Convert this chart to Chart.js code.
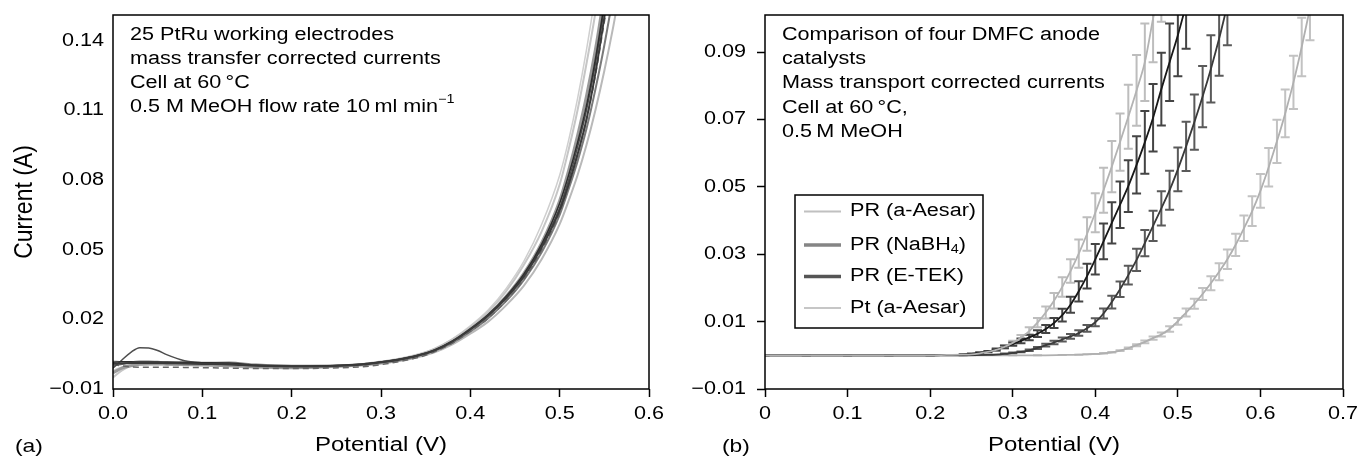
<!DOCTYPE html>
<html><head><meta charset="utf-8">
<script src="https://cdn.jsdelivr.net/npm/chart.js@4.4.1/dist/chart.umd.min.js"></script>
<style>
html,body{margin:0;padding:0;background:#fff;width:1359px;height:459px;overflow:hidden}
#wa{position:absolute;left:0;top:0;width:680px;height:459px}
#wb{position:absolute;left:680px;top:0;width:679px;height:459px}
</style></head><body>
<div id="wa"><canvas id="ca"></canvas></div>
<div id="wb"><canvas id="cb"></canvas></div>
<script>
const FONT = "'Liberation Sans', Arial, Helvetica, sans-serif";
const SX = 1.2; // the source figure's lettering is horizontally widened

// ---------- Panel (a): 25 PtRu electrodes (representative traces) ----------
const aPotential = [0,0.01,0.02,0.03,0.04,0.05,0.06,0.08,0.10,0.13,0.16,0.20,0.24,0.28,0.30,0.32,0.34,0.36,0.38,0.40,0.42,0.44,0.46,0.48,0.50,0.51,0.52,0.53,0.54,0.55,0.56,0.57];
const aCurve1 = [0.001,0.001,0.0012,0.0012,0.0012,0.0012,0.0011,0.001,0.0008,0.0006,0.0,-0.0003,-0.0002,0.0005,0.0015,0.0026,0.0042,0.0066,0.0105,0.0158,0.0218,0.0292,0.0385,0.051,0.067,0.078,0.091,0.106,0.126,0.15,0.175,0.2];
const aCurve2 = [-0.001,0.0025,0.0058,0.0078,0.0077,0.0066,0.0048,0.0022,0.0013,0.0008,0.0002,-0.0001,0.0,0.0008,0.0017,0.0028,0.0044,0.0068,0.0106,0.0156,0.0215,0.029,0.0385,0.0515,0.068,0.08,0.094,0.11,0.13,0.154,0.18,0.2];
const aCurve3 = [0.0,0.0008,0.0015,0.0018,0.0018,0.0017,0.0016,0.0015,0.0013,0.0014,0.0005,0.0,0.0,0.0008,0.0015,0.0027,0.0043,0.0065,0.01,0.0148,0.0205,0.0278,0.037,0.049,0.065,0.076,0.088,0.102,0.119,0.138,0.16,0.185];
const aCurve4 = [-0.003,-0.001,0.0,0.0006,0.0008,0.0008,0.0007,0.0005,0.0003,0.0,-0.0005,-0.0008,-0.0004,0.0004,0.0012,0.0024,0.0041,0.0066,0.0104,0.0156,0.0218,0.0298,0.0398,0.053,0.071,0.084,0.099,0.116,0.136,0.16,0.185,0.21];
const aCurve5 = [0.002,0.0015,0.0012,0.001,0.001,0.001,0.0009,0.0008,0.0006,0.0004,0.0,-0.0002,0.0,0.0006,0.0013,0.0022,0.0036,0.0058,0.0092,0.0138,0.019,0.026,0.0345,0.046,0.061,0.071,0.082,0.095,0.11,0.127,0.146,0.167];
const aCurve6 = [-0.005,-0.002,0.0,0.0005,0.0007,0.0007,0.0006,0.0005,0.0004,0.0002,0.0,-0.0003,-0.0001,0.0007,0.0018,0.003,0.0048,0.0074,0.0114,0.0166,0.0232,0.032,0.0435,0.058,0.078,0.093,0.11,0.13,0.152,0.178,0.205,0.23];
const aCurve7 = [0.0005,0.0,-0.0005,-0.0006,-0.0006,-0.0006,-0.0006,-0.0007,-0.0008,-0.001,-0.0012,-0.0012,-0.001,-0.0004,0.0005,0.0018,0.0034,0.006,0.0098,0.0148,0.0205,0.028,0.0372,0.05,0.066,0.078,0.091,0.106,0.125,0.148,0.17,0.195];
const aCurve8 = [0.0015,0.0017,0.0017,0.0016,0.0016,0.0016,0.0015,0.0014,0.0013,0.0012,0.0002,-0.0002,0.0,0.0007,0.0016,0.0027,0.0043,0.0067,0.0106,0.0158,0.022,0.0298,0.0395,0.0525,0.07,0.082,0.096,0.112,0.132,0.156,0.18,0.205];
const aCurve9 = [-0.002,-0.0005,0.0005,0.0008,0.0009,0.0009,0.0008,0.0006,0.0004,0.0002,-0.0002,-0.0005,-0.0003,0.0006,0.0016,0.0029,0.0047,0.0074,0.0116,0.0172,0.024,0.0332,0.045,0.061,0.082,0.097,0.115,0.136,0.16,0.186,0.21,0.235];
const aXTicks = [0,0.1,0.2,0.3,0.4,0.5,0.6];
const aXTickLabels = ['0.0','0.1','0.2','0.3','0.4','0.5','0.6'];
const aYTicks = [-0.01,0.02,0.05,0.08,0.11,0.14];
const aYTickLabels = ['\u22120.01','0.02','0.05','0.08','0.11','0.14'];

// ---------- Panel (b): four DMFC anode catalysts ----------
const seriesNames = ['PR (a-Aesar)','PR (NaBH4)','PR (E-TEK)','Pt (a-Aesar)'];
const prAesarPotential = [0,0.05,0.10,0.15,0.20,0.22,0.24,0.25,0.26,0.27,0.28,0.29,0.30,0.31,0.32,0.33,0.34,0.35,0.36,0.37,0.38,0.39,0.40,0.41,0.42,0.43,0.44,0.45,0.46,0.47,0.48];
const prAesarCurrent = [0,0,0,0,0,0.0001,0.0002,0.0003,0.0006,0.001,0.0016,0.0025,0.0037,0.0052,0.0072,0.0097,0.0127,0.0162,0.0203,0.025,0.0302,0.036,0.0423,0.049,0.056,0.0633,0.0708,0.0786,0.087,0.1,0.113];
const prAesarError = [0,0,0,0,0,0,0,0.0001,0.0001,0.0002,0.0003,0.0004,0.0006,0.0008,0.0011,0.0014,0.0018,0.0023,0.0029,0.0035,0.0042,0.005,0.0058,0.0067,0.0076,0.0085,0.0095,0.0105,0.0115,0.013,0.014];
const prNaBH4Potential = [0,0.05,0.10,0.15,0.20,0.22,0.24,0.25,0.26,0.27,0.28,0.29,0.30,0.31,0.32,0.33,0.34,0.35,0.36,0.37,0.38,0.39,0.40,0.41,0.42,0.43,0.44,0.45,0.46,0.47,0.48,0.49,0.50,0.51];
const prNaBH4Current = [0,0,0,0,0,0.0001,0.0002,0.0004,0.0007,0.0011,0.0017,0.0025,0.0033,0.0043,0.0053,0.0064,0.0078,0.0096,0.0119,0.015,0.019,0.0235,0.0285,0.0338,0.0393,0.0447,0.0502,0.0565,0.0632,0.0705,0.079,0.087,0.095,0.104];
const prNaBH4Error = [0,0,0,0,0,0,0.0001,0.0001,0.0002,0.0002,0.0003,0.0004,0.0005,0.0007,0.0008,0.001,0.0012,0.0015,0.0019,0.0024,0.003,0.0037,0.0045,0.0053,0.0061,0.0069,0.0077,0.0085,0.0093,0.01,0.0108,0.0115,0.0122,0.013];
const prETEKPotential = [0,0.05,0.10,0.15,0.20,0.24,0.27,0.28,0.29,0.30,0.31,0.32,0.33,0.34,0.35,0.36,0.37,0.38,0.39,0.40,0.41,0.42,0.43,0.44,0.45,0.46,0.47,0.48,0.49,0.50,0.51,0.52,0.53,0.54,0.55,0.56];
const prETEKCurrent = [0,0,0,0,0,0,0.0001,0.0002,0.0004,0.0007,0.001,0.0015,0.0022,0.003,0.0038,0.0047,0.0056,0.0066,0.008,0.0098,0.0124,0.0158,0.0196,0.0238,0.0283,0.0333,0.0384,0.0436,0.049,0.0552,0.062,0.0692,0.0768,0.085,0.094,0.104];
const prETEKError = [0,0,0,0,0,0,0,0,0.0001,0.0001,0.0001,0.0002,0.0003,0.0004,0.0005,0.0006,0.0007,0.0008,0.001,0.0012,0.0015,0.0019,0.0023,0.0028,0.0033,0.0039,0.0045,0.0051,0.0058,0.0065,0.0073,0.0082,0.0091,0.01,0.011,0.012];
const ptAesarPotential = [0,0.05,0.10,0.15,0.20,0.25,0.30,0.33,0.36,0.38,0.39,0.40,0.41,0.42,0.43,0.44,0.45,0.46,0.47,0.48,0.49,0.50,0.51,0.52,0.53,0.54,0.55,0.56,0.57,0.58,0.59,0.60,0.61,0.62,0.63,0.64,0.65,0.66];
const ptAesarCurrent = [0,0,0,0,0,0,0,0,0.0001,0.0002,0.0003,0.0004,0.0006,0.0009,0.0014,0.0021,0.003,0.004,0.0051,0.0062,0.0078,0.0101,0.0127,0.0153,0.0182,0.0214,0.0248,0.0285,0.0328,0.0377,0.0428,0.0488,0.0558,0.0635,0.0718,0.081,0.0915,0.103];
const ptAesarError = [0,0,0,0,0,0,0,0,0,0,0,0,0.0001,0.0001,0.0001,0.0002,0.0003,0.0004,0.0005,0.0006,0.0008,0.001,0.0012,0.0015,0.0018,0.0021,0.0025,0.0029,0.0033,0.0038,0.0044,0.005,0.0057,0.0064,0.0071,0.0079,0.0087,0.0095];
const bXTicks = [0,0.1,0.2,0.3,0.4,0.5,0.6,0.7];
const bXTickLabels = ['0','0.1','0.2','0.3','0.4','0.5','0.6','0.7'];
const bYTicks = [-0.01,0.01,0.03,0.05,0.07,0.09];
const bYTickLabels = ['\u22120.01','0.01','0.03','0.05','0.07','0.09'];

// ---------- helpers ----------
const pts = (xs, ys) => xs.map((x, i) => ({x: x, y: ys[i]}));
const f = (s) => s + 'px ' + FONT;

// draw widened text made of parts ({t, s, dy}); align: left | center | right
function sText(ctx, parts, x, y, size, align) {
  if (typeof parts === 'string') parts = [{t: parts}];
  let w = 0;
  for (const p of parts) { ctx.font = f(p.s || size); w += ctx.measureText(p.t).width * SX; }
  let cx = align === 'center' ? x - w / 2 : align === 'right' ? x - w : x;
  for (const p of parts) {
    ctx.save();
    ctx.font = f(p.s || size);
    ctx.textAlign = 'left';
    ctx.textBaseline = 'middle';
    ctx.translate(cx, y + (p.dy || 0));
    ctx.scale(SX, 1);
    ctx.fillText(p.t, 0, 0);
    const pw = ctx.measureText(p.t).width * SX;
    ctx.restore();
    cx += pw;
  }
  return w;
}

const framePlugin = {
  id: 'frame',
  afterDraw(chart) {
    const {ctx, chartArea: a} = chart;
    ctx.save();
    ctx.strokeStyle = '#000';
    ctx.lineWidth = 1.5;
    ctx.strokeRect(a.left, a.top, a.right - a.left, a.bottom - a.top);
    ctx.restore();
  }
};

// tick labels and axis titles, placed with the chart's own scales
function axisText(xTicks, xLabels, yTicks, yLabels, yLabelRight, yTitle) {
  return {
    id: 'axisText',
    afterDraw(chart) {
      const {ctx, chartArea: a, scales: {x, y}} = chart;
      ctx.save();
      ctx.fillStyle = '#000';
      xTicks.forEach((v, i) => sText(ctx, xLabels[i], x.getPixelForValue(v), a.bottom + 25, 18, 'center'));
      yTicks.forEach((v, i) => sText(ctx, yLabels[i], yLabelRight, y.getPixelForValue(v), 18, 'right'));
      sText(ctx, 'Potential (V)', (a.left + a.right) / 2, 445, 20, 'center');
      if (yTitle) {
        ctx.save();
        ctx.translate(25, (a.top + a.bottom) / 2);
        ctx.scale(1.1, 1);
        ctx.rotate(-Math.PI / 2);
        ctx.font = f(23);
        ctx.textAlign = 'center';
        ctx.textBaseline = 'middle';
        ctx.fillText(yTitle, 0, 0);
        ctx.restore();
      }
      ctx.restore();
    }
  };
}

function axisX(max) {
  return {
    type: 'linear', min: 0, max: max,
    afterFit: s => { s.height = 70; },
    border: {display: false},
    grid: {drawOnChartArea: false, drawTicks: true, tickLength: 8, tickWidth: 1.5, tickColor: '#000'},
    ticks: {display: false, stepSize: 0.1, autoSkip: false}
  };
}

// ---------- Chart (a) ----------
const aStyles = [
  {c: '#cfcfcf', w: 1.5, d: aCurve9},
  {c: '#c6c6c6', w: 2, d: aCurve6},
  {c: '#b9b9b9', w: 2, d: aCurve5},
  {c: '#9a9a9a', w: 3, d: aCurve4},
  {c: '#7a7a7a', w: 2, d: aCurve3},
  {c: '#666666', w: 1.5, d: aCurve7, dash: [6, 4]},
  {c: '#4e4e4e', w: 1.5, d: aCurve2},
  {c: '#2e2e2e', w: 1.5, d: aCurve8},
  {c: '#3a3a3a', w: 2, d: aCurve1}
];

const notesA = {
  id: 'notesA',
  afterDraw(chart) {
    const ctx = chart.ctx;
    ctx.save();
    ctx.fillStyle = '#000';
    sText(ctx, '25 PtRu working electrodes', 130, 35, 18, 'left');
    sText(ctx, 'mass transfer corrected currents', 130, 59, 18, 'left');
    sText(ctx, 'Cell at 60\u2009\u00B0C', 130, 83, 18, 'left');
    sText(ctx, [{t: '0.5 M MeOH flow rate 10\u2009ml min'}, {t: '\u22121', s: 12, dy: -7}], 130, 107, 18, 'left');
    sText(ctx, '(a)', 15, 447, 19, 'left');
    ctx.restore();
  }
};

new Chart(document.getElementById('ca'), {
  type: 'line',
  data: {
    datasets: aStyles.map((st, i) => ({
      label: 'electrode ' + (i + 1),
      data: pts(aPotential, st.d),
      borderColor: st.c, borderWidth: st.w, borderDash: st.dash || [],
      pointRadius: 0, cubicInterpolationMode: 'monotone', fill: false
    })).reverse()
  },
  options: {
    responsive: true, maintainAspectRatio: false, animation: false, devicePixelRatio: 1,
    layout: {padding: {left: 0, right: 31, top: 15, bottom: 0}},
    plugins: {legend: {display: false}, tooltip: {enabled: false}},
    scales: {
      x: Object.assign(axisX(0.6), {afterBuildTicks: s => { s.ticks = aXTicks.map(v => ({value: v})); }}),
      y: {
        type: 'linear', min: -0.01, max: 0.151,
        afterBuildTicks: s => { s.ticks = aYTicks.map(v => ({value: v})); },
        afterFit: s => { s.width = 113; },
        border: {display: false},
        grid: {drawOnChartArea: false, drawTicks: false},
        ticks: {display: false}
      }
    }
  },
  plugins: [framePlugin, axisText(aXTicks, aXTickLabels, aYTicks, aYTickLabels, 104, 'Current (A)'), notesA]
});

// ---------- Chart (b) ----------
const bSeries = [
  {name: seriesNames[0], v: prAesarPotential, i: prAesarCurrent, e: prAesarError, line: '#b3b3b3', bar: '#bdbdbd'},
  {name: seriesNames[1], v: prNaBH4Potential, i: prNaBH4Current, e: prNaBH4Error, line: '#181818', bar: '#444444'},
  {name: seriesNames[2], v: prETEKPotential, i: prETEKCurrent, e: prETEKError, line: '#3a3a3a', bar: '#5a5a5a'},
  {name: seriesNames[3], v: ptAesarPotential, i: ptAesarCurrent, e: ptAesarError, line: '#b0b0b0', bar: '#c2c2c2'}
];

const errorBars = {
  id: 'errorBars',
  beforeDatasetsDraw(chart) {
    const {ctx, chartArea: a, scales: {x, y}} = chart;
    ctx.save();
    ctx.beginPath();
    ctx.rect(a.left, a.top, a.right - a.left, a.bottom - a.top);
    ctx.clip();
    ctx.lineWidth = 2;
    for (const s of bSeries) {
      ctx.strokeStyle = s.bar;
      s.v.forEach((v, k) => {
        const px = x.getPixelForValue(v);
        const y1 = y.getPixelForValue(s.i[k] + s.e[k]);
        const y2 = y.getPixelForValue(s.i[k] - s.e[k]);
        ctx.beginPath();
        ctx.moveTo(px, y1); ctx.lineTo(px, y2);
        ctx.moveTo(px - 4.5, y1); ctx.lineTo(px + 4.5, y1);
        ctx.moveTo(px - 4.5, y2); ctx.lineTo(px + 4.5, y2);
        ctx.stroke();
      });
    }
    ctx.restore();
  }
};

const legendStyles = [
  {c: '#c0c0c0', w: 2},
  {c: '#858585', w: 3.5},
  {c: '#555555', w: 3.5},
  {c: '#c6c6c6', w: 2}
];

const notesB = {
  id: 'notesB',
  afterDraw(chart) {
    const ctx = chart.ctx;
    ctx.save();
    ctx.fillStyle = '#000';
    const lines = ['Comparison of four DMFC anode', 'catalysts', 'Mass transport corrected currents', 'Cell at 60\u2009\u00B0C,', '0.5\u2009M MeOH'];
    lines.forEach((t, k) => sText(ctx, t, 102, 35 + k * 24.2, 18, 'left'));
    // legend box
    ctx.fillStyle = '#fff';
    ctx.fillRect(115, 195, 188, 133);
    ctx.strokeStyle = '#000';
    ctx.lineWidth = 1.5;
    ctx.strokeRect(115, 195, 188, 133);
    const rows = [211.5, 245, 276.5, 308];
    const texts = [
      [{t: 'PR (a-Aesar)'}],
      [{t: 'PR (NaBH'}, {t: '4', s: 12, dy: 5}, {t: ')'}],
      [{t: 'PR (E-TEK)'}],
      [{t: 'Pt (a-Aesar)'}]
    ];
    rows.forEach((ry, k) => {
      ctx.strokeStyle = legendStyles[k].c;
      ctx.lineWidth = legendStyles[k].w;
      ctx.beginPath(); ctx.moveTo(124, ry); ctx.lineTo(161, ry); ctx.stroke();
      ctx.fillStyle = '#000';
      sText(ctx, texts[k], 170, ry, 18, 'left');
    });
    sText(ctx, '(b)', 42, 447, 19, 'left');
    ctx.restore();
  }
};

new Chart(document.getElementById('cb'), {
  type: 'line',
  data: {
    datasets: bSeries.map(s => ({
      label: s.name,
      data: pts(s.v, s.i),
      borderColor: s.line, borderWidth: 1.8,
      pointRadius: 0, cubicInterpolationMode: 'monotone', fill: false
    }))
  },
  options: {
    responsive: true, maintainAspectRatio: false, animation: false, devicePixelRatio: 1,
    layout: {padding: {left: 0, right: 16, top: 15, bottom: 0}},
    plugins: {legend: {display: false}, tooltip: {enabled: false}},
    scales: {
      x: Object.assign(axisX(0.7), {afterBuildTicks: s => { s.ticks = bXTicks.map(v => ({value: v})); }}),
      y: {
        type: 'linear', min: -0.01, max: 0.101,
        afterBuildTicks: s => { s.ticks = bYTicks.map(v => ({value: v})); },
        afterFit: s => { s.width = 85; },
        border: {display: false},
        grid: {drawOnChartArea: false, drawTicks: true, tickLength: 8, tickWidth: 1.5, tickColor: '#000'},
        ticks: {display: false}
      }
    }
  },
  plugins: [framePlugin, errorBars, axisText(bXTicks, bXTickLabels, bYTicks, bYTickLabels, 66, null), notesB]
});
</script></body></html>
